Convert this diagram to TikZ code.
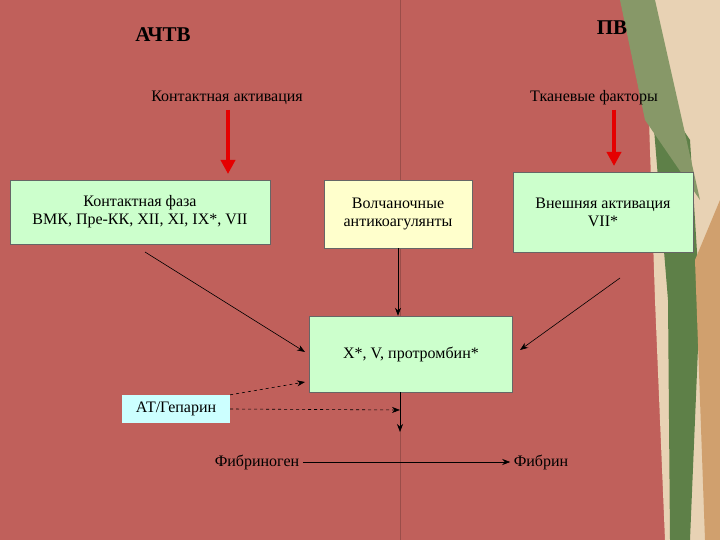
\documentclass[tikz,border=0pt]{standalone}
\usepackage{fontspec}
\setmainfont{Liberation Serif}
\usetikzlibrary{arrows.meta}
\definecolor{bg}{HTML}{C0605B}
\definecolor{lgreen}{HTML}{CCFFCC}
\definecolor{lyellow}{HTML}{FFFFCC}
\definecolor{lcyan}{HTML}{CCFFFF}
\definecolor{beige}{HTML}{E8D2B4}
\definecolor{dgreen}{HTML}{5E8048}
\begin{document}
\begin{tikzpicture}[x=1pt,y=-1pt,
 box/.style={draw=black!60,fill=lgreen,font=\fontsize{16}{18}\selectfont,align=center,inner sep=2pt},
 lbl/.style={font=\fontsize{16}{18}\selectfont},
 arr/.style={-{Stealth[length=8pt,width=6pt]},black,line width=0.6pt},
 red/.style={-{Triangle[length=14pt,width=14pt]},red!90!black,line width=4pt}]
\useasboundingbox (0,0) rectangle (720,540);
\fill[bg] (0,0) rectangle (720,540);
% decoration
\fill[beige] (645,0) -- (720,0) -- (720,540) -- (665,540) -- (655,300) -- cycle;
\fill[dgreen] (650,80) -- (690,140) -- (700,300) -- (690,540) -- (670,540) -- (668,300) -- cycle;
\fill[dgreen!70!beige] (620,0) -- (655,0) -- (700,200) -- (645,120) -- cycle;
\fill[brown!60!beige] (695,260) -- (720,200) -- (720,540) -- (705,540) -- cycle;
\draw[bg!80!black] (400,0) -- (400,540);
\node[font=\fontsize{21}{23}\selectfont\bfseries] (a) at (163,35) {АЧТВ};
\node[font=\fontsize{21}{23}\selectfont\bfseries] (p) at (612,28) {ПВ};
\node[lbl] (ka) at (227,98) {Контактная активация};
\node[lbl] (tf) at (594,98) {Тканевые факторы};
\node[box,minimum width=260pt,minimum height=64pt] (kf) at (140,212) {Контактная фаза\\ВМК, Пре-КК, XII, XI, IX*, VII};
\node[box,fill=lyellow,minimum width=148pt,minimum height=68pt] (vol) at (398,214) {Волчаночные\\антикоагулянты};
\node[box,minimum width=180pt,minimum height=80pt] (vn) at (603,212) {Внешняя активация\\VII*};
\node[box,minimum width=203pt,minimum height=76pt] (x) at (411,354) {X*, V, протромбин*};
\node[box,fill=lcyan,draw=none,minimum width=108pt,minimum height=28pt] (at) at (176,409) {АТ/Гепарин};
\node[lbl] (fg) at (257,462) {Фибриноген};
\node[lbl] (fb) at (541,462) {Фибрин};
\coordinate (r1) at (228,110); \coordinate (r1e) at (228,174);
\coordinate (r2) at (614,110); \coordinate (r2e) at (614,166);
\draw[red] (r1) -- (r1e);
\draw[red] (r2) -- (r2e);
\draw[arr] (145,252) -- (305,352);
\draw[arr] (620,278) -- (520,350);
\draw[arr] (vol.south) -- (x.north -| vol.south);
\draw[arr] (400,392) -- (400,432);
\draw[arr,dashed] (at.east) -- (400,410);
\draw[arr,dashed] (at.north east) -- (305,382);
\draw[arr] (fg.east) -- (fb.west);
\end{tikzpicture}
\end{document}
